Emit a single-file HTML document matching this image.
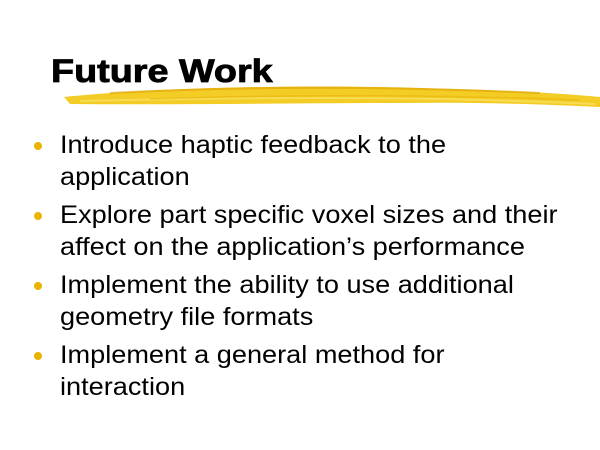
<!DOCTYPE html>
<html>
<head>
<meta charset="utf-8">
<style>
  body{margin:0;width:600px;height:450px;background:#fff;overflow:hidden;position:relative;font-family:"Liberation Sans","DejaVu Sans",sans-serif;}
  #title{position:absolute;left:51px;top:53px;font-size:32px;font-weight:bold;color:#000;z-index:2;transform:scaleX(1.18);transform-origin:0 0;-webkit-text-stroke:0.8px #000;}
  #stroke{position:absolute;left:0;top:0;z-index:1;}
  .item{position:absolute;left:60px;font-size:25px;line-height:32px;color:#000;transform:scaleX(1.085);transform-origin:0 0;white-space:nowrap;}
  .dot{position:absolute;left:34px;width:8px;height:8px;border-radius:50%;background:#e8b400;}
</style>
</head>
<body>
<svg id="stroke" width="600" height="450">
  <path d="M64,97 C150,88 300,84 420,88 C500,90 560,93 600,97 L600,107 C540,104 470,102 400,103 C300,103 180,105 70,104 Z" fill="#f2c814" opacity="0.92"/>
  <path d="M110,93 C250,86 380,86 540,93" stroke="#dca000" stroke-width="2" fill="none" opacity="0.6"/>
  <path d="M80,101 C250,97 420,96 595,104" stroke="#f7e060" stroke-width="2" fill="none" opacity="0.8"/>
  <path d="M150,99 C300,94 450,95 580,100" stroke="#e6b000" stroke-width="1.5" fill="none" opacity="0.5"/>
</svg>
<div id="title">Future Work</div>

<div class="dot" style="top:142px"></div>
<div class="item" style="top:129px">Introduce haptic feedback to the<br>application</div>

<div class="dot" style="top:212px"></div>
<div class="item" style="top:199px">Explore part specific voxel sizes and their<br>affect on the application’s performance</div>

<div class="dot" style="top:282px"></div>
<div class="item" style="top:269px">Implement the ability to use additional<br>geometry file formats</div>

<div class="dot" style="top:352px"></div>
<div class="item" style="top:339px">Implement a general method for<br>interaction</div>
</body>
</html>
